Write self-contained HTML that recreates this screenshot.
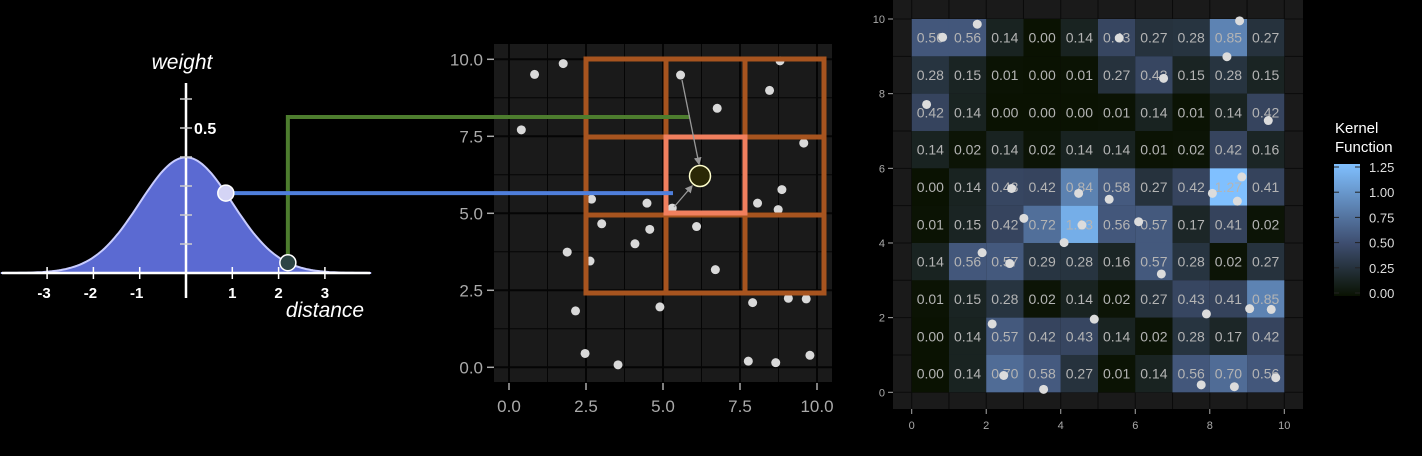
<!DOCTYPE html>
<html><head><meta charset="utf-8">
<style>
html,body{margin:0;padding:0;background:#000;}
svg{display:block;font-family:"Liberation Sans",sans-serif;}
</style></head>
<body>
<svg id="c" width="1422" height="456" viewBox="0 0 1422 456" xmlns="http://www.w3.org/2000/svg">
<rect width="1422" height="456" fill="#000"/>
</svg>
<script>
// ---------- data ----------
const gaussTicks = [-3,-2,-1,1,2,3];
const gaussYTicks = [0.1,0.2,0.3,0.4,0.5,0.6];
const kernelPointDist = [0.86, 2.2];
const scatterX = [0.83,1.76,0.40,5.57,6.76,8.46,8.80,9.57,8.86,8.07,8.74,2.68,4.48,5.30,3.01,4.57,4.09,6.09,1.89,2.63,6.70,2.16,4.90,7.91,9.07,9.65,2.47,3.54,7.77,8.66,9.77];
const scatterY = [9.51,9.86,7.71,9.49,8.41,8.99,9.95,7.28,5.77,5.33,5.12,5.46,5.33,5.17,4.66,4.48,4.01,4.57,3.74,3.45,3.17,1.83,1.96,2.10,2.24,2.22,0.45,0.08,0.20,0.15,0.39];
const scatterTicks = ["0.0","2.5","5.0","7.5","10.0"];
const heatTicks = [0,2,4,6,8,10];
const heatRows = [ // top row y=9 ... bottom row y=0
 [0.56,0.56,0.14,0.00,0.14,0.43,0.27,0.28,0.85,0.27],
 [0.28,0.15,0.01,0.00,0.01,0.27,0.43,0.15,0.28,0.15],
 [0.42,0.14,0.00,0.00,0.00,0.01,0.14,0.01,0.14,0.42],
 [0.14,0.02,0.14,0.02,0.14,0.14,0.01,0.02,0.42,0.16],
 [0.00,0.14,0.43,0.42,0.84,0.58,0.27,0.42,1.27,0.41],
 [0.01,0.15,0.42,0.72,1.13,0.56,0.57,0.17,0.41,0.02],
 [0.14,0.56,0.57,0.29,0.28,0.16,0.57,0.28,0.02,0.27],
 [0.01,0.15,0.28,0.02,0.14,0.02,0.27,0.43,0.41,0.85],
 [0.00,0.14,0.57,0.42,0.43,0.14,0.02,0.28,0.17,0.42],
 [0.00,0.14,0.70,0.58,0.27,0.01,0.14,0.56,0.70,0.56]
];
const legendTicks = [0,0.25,0.5,0.75,1.0,1.25];

const NS="http://www.w3.org/2000/svg";
const svg=document.getElementById('c');
function mk(tag,attrs,parent){const e=document.createElementNS(NS,tag);for(const k in attrs)e.setAttribute(k,attrs[k]);(parent||svg).appendChild(e);return e;}
function txt(s,attrs,parent){const e=mk('text',attrs,parent);e.textContent=s;return e;}

// ---------- gaussian panel ----------
const gx=d=>186+d*46.3, gy=v=>273-v*290;
const pdf=d=>Math.exp(-d*d/2)/Math.sqrt(2*Math.PI);
let p="M"+gx(-4.0)+","+gy(0);
for(let d=-4;d<=4.0001;d+=0.05)p+=" L"+gx(d).toFixed(1)+","+gy(pdf(d)).toFixed(1);
p+=" L"+gx(4)+","+gy(0)+"Z";
let el=mk('path',{d:p,fill:"#5b6ad2",stroke:"#c8ccff","stroke-width":2});

el=mk('line',{x1:2,y1:273,x2:370,y2:273,stroke:"#fff","stroke-width":2.5});

el=mk('line',{x1:186,y1:83,x2:186,y2:298,stroke:"#fff","stroke-width":2.5});

gaussTicks.forEach(t=>{
  el=mk('line',{x1:gx(t),y1:267,x2:gx(t),y2:279,stroke:"#fff","stroke-width":1.5});
  
  el=txt(String(t),{x:gx(t)-(t<0?3:0),y:298,fill:"#fff","font-size":15,"font-weight":"bold","text-anchor":"middle"});
  
});
gaussYTicks.forEach(t=>{
  el=mk('line',{x1:180,y1:gy(t),x2:192,y2:gy(t),stroke:"#ccc","stroke-width":1.5});
  
});
el=txt("0.5",{x:194,y:134,fill:"#fff","font-size":16,"font-weight":"bold"});

el=txt("weight",{x:182,y:69,fill:"#fff","font-size":21,"font-style":"italic","text-anchor":"middle"});

el=txt("distance",{x:325,y:317,fill:"#fff","font-size":21,"font-style":"italic","text-anchor":"middle"});


// ---------- scatter panel ----------
const sx=v=>509+v*30.8, sy=v=>367.3-v*30.8;
el=mk('rect',{x:494,y:44,width:338,height:338,fill:"#1a1a1a"});

for(let v=0;v<=10.01;v+=1.25){
  const major=Math.abs(v/2.5-Math.round(v/2.5))<0.01;
  mk('line',{x1:sx(v),y1:44,x2:sx(v),y2:382,stroke:"#050505","stroke-width":major?2:1});
  mk('line',{x1:494,y1:sy(v),x2:832,y2:sy(v),stroke:"#050505","stroke-width":major?2:1});
}
scatterTicks.forEach(s=>{
  const v=parseFloat(s);
  el=mk('line',{x1:487,y1:sy(v),x2:494,y2:sy(v),stroke:"#aaa","stroke-width":1.5});
  
  el=txt(s,{x:483,y:sy(v)+6,fill:"#aaa","font-size":17,"text-anchor":"end"});
  
  el=mk('line',{x1:sx(v),y1:383,x2:sx(v),y2:390,stroke:"#aaa","stroke-width":1.5});
  
  el=txt(s,{x:sx(v),y:412,fill:"#aaa","font-size":17,"text-anchor":"middle"});
  
});
scatterX.forEach((x,i)=>{
  el=mk('circle',{cx:sx(x),cy:sy(scatterY[i]),r:4.5,fill:"#d9d9d9"});
  
});
// neighbourhood grid
const gL=586,gR=824,gT=59,gB=293,v1=666,v2=745,h1=137,h2=215;
[[gL,gT,gR,gT],[gL,h1,gR,h1],[gL,h2,gR,h2],[gL,gB,gR,gB],[gL,gT,gL,gB],[v1,gT,v1,gB],[v2,gT,v2,gB],[gR,gT,gR,gB]].forEach(l=>{
  el=mk('line',{x1:l[0],y1:l[1],x2:l[2],y2:l[3],stroke:"#a7541f","stroke-width":5,"stroke-linecap":"square"});
  
});
el=mk('rect',{x:666,y:137,width:79,height:76,fill:"none",stroke:"#f07f5e","stroke-width":5});


// connector lines
const px1=gx(kernelPointDist[0]),py1=gy(pdf(kernelPointDist[0]));
const px2=gx(kernelPointDist[1]),py2=gy(pdf(kernelPointDist[1]));
el=mk('polyline',{points:`${px2},${py2} ${px2},117 690,117`,fill:"none",stroke:"#4d7d2e","stroke-width":4});

el=mk('line',{x1:px1,y1:py1,x2:673,y2:py1,stroke:"#4f7fdc","stroke-width":4});

el=mk('circle',{cx:px1,cy:py1,r:8,fill:"#d4d4f5",stroke:"#fff","stroke-width":1.5});

el=mk('circle',{cx:px2,cy:py2,r:8,fill:"#2c4444",stroke:"#fff","stroke-width":1.5});


// arrows
const defs=mk('defs',{});
const mkr=mk('marker',{id:"ah",markerWidth:6,markerHeight:6,refX:5,refY:3,orient:"auto"},defs);
mk('path',{d:"M0,0 L6,3 L0,6Z",fill:"#999"},mkr);
el=mk('line',{x1:682,y1:80,x2:699,y2:164,stroke:"#999","stroke-width":1.3,"marker-end":"url(#ah)"});

el=mk('line',{x1:674,y1:207,x2:692,y2:186,stroke:"#999","stroke-width":1.3,"marker-end":"url(#ah)"});

el=mk('circle',{cx:700,cy:176,r:10.5,fill:"#2a2806",stroke:"#ffffcc","stroke-width":1.5});


// ---------- heatmap panel ----------
const hx=v=>911.7+v*37.26, hy=v=>392.3-v*37.33;
el=mk('rect',{x:893,y:0,width:410,height:409,fill:"#1a1a1a"});

for(let v=0;v<=10;v++){
  mk('line',{x1:hx(v),y1:0,x2:hx(v),y2:409,stroke:"#0a0a0a","stroke-width":1});
  mk('line',{x1:893,y1:hy(v),x2:1303,y2:hy(v),stroke:"#0a0a0a","stroke-width":1});
}
const stops=[[0,[10,18,2]],[0.5,[62,78,112]],[1.25,[128,192,255]]];
function col(v){
  v=Math.max(0,Math.min(1.25,v));
  for(let i=0;i<stops.length-1;i++){const a=stops[i],b=stops[i+1];
    if(v<=b[0]){const f=(v-a[0])/(b[0]-a[0]);return "rgb("+a[1].map((c,j)=>Math.round(c+(b[1][j]-c)*f)).join(",")+")";}}
  return "rgb(128,192,255)";
}
heatRows.forEach((row,ri)=>{
  const yv=9-ri;
  row.forEach((v,xi)=>{
    el=mk('rect',{x:hx(xi),y:hy(yv+1),width:37.3,height:37.4,fill:col(v)});
    
  });
});
heatRows.forEach((row,ri)=>{
  const yv=9-ri;
  row.forEach((v,xi)=>{
    el=txt(v.toFixed(2),{x:hx(xi+0.5),y:hy(yv+0.5)+5,fill:"#b4b4b4","font-size":14,"text-anchor":"middle"});
    
  });
});
scatterX.forEach((x,i)=>{
  el=mk('circle',{cx:hx(x),cy:hy(scatterY[i]),r:4.5,fill:"#dcdcdc"});
  
});
heatTicks.forEach(t=>{
  el=mk('line',{x1:888,y1:hy(t),x2:893,y2:hy(t),stroke:"#aaa"});
  
  el=txt(String(t),{x:885,y:hy(t)+4,fill:"#aaa","font-size":11,"text-anchor":"end"});
  
  el=mk('line',{x1:hx(t),y1:409,x2:hx(t),y2:414,stroke:"#aaa"});
  
  el=txt(String(t),{x:hx(t),y:429,fill:"#aaa","font-size":11,"text-anchor":"middle"});
  
});

// ---------- legend ----------
const grad=mk('linearGradient',{id:"lg",x1:0,y1:1,x2:0,y2:0},defs);
mk('stop',{offset:"0%","stop-color":col(0)},grad);
mk('stop',{offset:"40%","stop-color":col(0.5)},grad);
mk('stop',{offset:"100%","stop-color":col(1.25)},grad);
const ly=v=>293-v*(126/1.25);
el=txt("Kernel",{x:1335,y:133,fill:"#fff","font-size":15});

el=txt("Function",{x:1335,y:152,fill:"#fff","font-size":15});

el=mk('rect',{x:1334,y:ly(1.25)-3,width:26,height:132,fill:"url(#lg)"});

legendTicks.forEach(t=>{
  mk('line',{x1:1334,y1:ly(t),x2:1339,y2:ly(t),stroke:"#222"});
  mk('line',{x1:1355,y1:ly(t),x2:1360,y2:ly(t),stroke:"#222"});
  el=txt(t.toFixed(2),{x:1369,y:ly(t)+5,fill:"#ddd","font-size":13});
  
});
</script>
</body></html>
